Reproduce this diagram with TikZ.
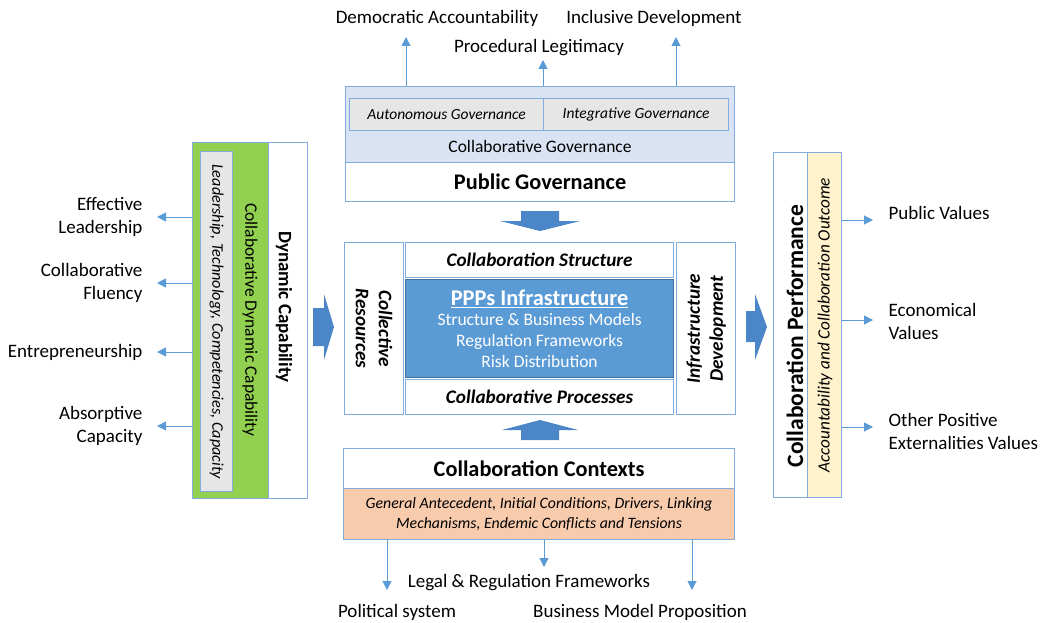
\documentclass[tikz,border=0pt]{standalone}
\usepackage{fontspec}
\setmainfont{Carlito}
\usepackage{xcolor}
\usepackage{tikz}
\usetikzlibrary{arrows.meta}

\definecolor{boxline}{RGB}{131,172,222}
\definecolor{flowblue}{RGB}{91,155,213}
\definecolor{arrowblue}{RGB}{74,134,200}
\definecolor{pppblue}{RGB}{91,155,213}
\definecolor{pppline}{RGB}{65,113,156}
\definecolor{govfill}{RGB}{218,227,243}
\definecolor{greyfill}{RGB}{231,230,230}
\definecolor{dcgreen}{RGB}{146,208,80}
\definecolor{outyellow}{RGB}{255,242,204}
\definecolor{ctxorange}{RGB}{248,203,173}

\begin{document}
\begin{tikzpicture}
            [
                x=1pt, y=-1pt,
                line width=1.2pt,
                font=\fontsize{19}{23}\selectfont
            ]
            \tikzset{
                cbox/.style = {rectangle, draw=boxline, anchor=north west, inner sep=0pt, align=center},
                headtext/.style = {font=\fontsize{22.3}{26}\selectfont\bfseries},
                subtext/.style = {font=\fontsize{19.2}{23}\selectfont\bfseries\itshape},
                smallit/.style = {font=\fontsize{15.5}{19}\selectfont\itshape},
                outtext/.style = {inner sep=1pt, align=center},
                flow/.style = {draw=flowblue, line width=1pt, -{Triangle[length=9pt,width=9pt]}},
                bigarrow/.style = {fill=arrowblue, draw=none}
            }
            \useasboundingbox (0,0) rectangle (1043,623);

            % public governance (top)
            \node[cbox, fill=govfill, minimum width=389, minimum height=76] (collgov) at (345,86) {};
            \node[cbox, fill=greyfill, minimum width=194, minimum height=32, smallit] (autogov) at (349,98) {Autonomous Governance};
            \node[cbox, fill=greyfill, minimum width=185, minimum height=32, smallit] (intgov) at (543,98) {Integrative Governance};
            \node[font=\fontsize{17.5}{21}\selectfont] (collgovtxt) at (540,146) {Collaborative Governance};
            \node[cbox, fill=white, minimum width=389, minimum height=39, headtext] (pubgov) at (345,162) {Public Governance};

            \node[outtext] (demacc) at (437,18) {Democratic Accountability};
            \node[outtext] (incdev) at (654,18) {Inclusive Development};
            \node[outtext] (procleg) at (539,48) {Procedural Legitimacy};
            \coordinate (datip) at (406,37);
            \coordinate (pltip) at (543,60);
            \coordinate (idtip) at (676,37);
            \draw[flow] (datip |- collgov.north) -- (datip);
            \draw[flow] (pltip |- collgov.north) -- (pltip);
            \draw[flow] (idtip |- collgov.north) -- (idtip);

            % dynamic capability (left)
            \node[cbox, fill=dcgreen, minimum width=76, minimum height=356] (cdc) at (192,142) {};
            \node[cbox, fill=white, minimum width=39, minimum height=356] (dcap) at (268,142) {};
            \node[cbox, fill=greyfill, minimum width=32, minimum height=340] (ltcc) at (200,151) {};
            \node[rotate=-90, font=\fontsize{16.2}{19}\selectfont\itshape] (ltcctxt) at (ltcc.center) {Leadership, Technology, Competencies, Capacity};
            \node[rotate=-90, font=\fontsize{17.5}{21}\selectfont] (cdctxt) at (250,320) {Collaborative Dynamic Capability};
            \node[rotate=-90, font=\fontsize{19}{23}\selectfont\bfseries] (dcaptxt) at (284,307) {Dynamic Capability};

            \node[outtext, anchor=east, align=right] (efflead) at (144,217) {Effective\\Leadership};
            \node[outtext, anchor=east, align=right] (collflu) at (144,283) {Collaborative\\Fluency};
            \node[outtext, anchor=east, align=right] (entre) at (144,352) {Entrepreneurship};
            \node[outtext, anchor=east, align=right] (abscap) at (144,426) {Absorptive\\Capacity};
            \draw[flow] (cdc.west |- efflead.east) -- ([xshift=13pt]efflead.east);
            \draw[flow] (cdc.west |- collflu.east) -- ([xshift=13pt]collflu.east);
            \draw[flow] (cdc.west |- entre.east) -- ([xshift=13pt]entre.east);
            \draw[flow] (cdc.west |- abscap.east) -- ([xshift=13pt]abscap.east);

            % PPPs infrastructure core
            \node[cbox, minimum width=59, minimum height=172] (colres) at (344,242) {};
            \node[cbox, minimum width=268, minimum height=35, subtext] (cstruct) at (405,242) {Collaboration Structure};
            \node[cbox, fill=pppblue, draw=pppline, minimum width=268, minimum height=98, text=white,
                  font=\fontsize{17.5}{21}\selectfont] (ppp) at (405,279)
                {{\fontsize{22.4}{24}\selectfont\bfseries\underline{PPPs Infrastructure}}\\[-1pt]
                 Structure \& Business Models\\ Regulation Frameworks\\ Risk Distribution};
            \node[cbox, minimum width=268, minimum height=35, subtext] (cproc) at (405,379) {Collaborative Processes};
            \node[cbox, minimum width=59, minimum height=172] (infdev) at (676,242) {};
            \node[rotate=-90, subtext, align=center] (colrestxt) at (colres.center) {Collective\\Resources};
            \node[rotate=90, subtext, align=center] (infdevtxt) at (infdev.center) {Infrastructure\\Development};

            % collaboration performance (right)
            \node[cbox, minimum width=34, minimum height=345] (cperf) at (773,152) {};
            \node[cbox, fill=outyellow, minimum width=34, minimum height=345] (accout) at (807,152) {};
            \node[rotate=90, font=\fontsize{23.5}{27}\selectfont\bfseries] (cperftxt) at (795,336) {Collaboration Performance};
            \node[rotate=90, font=\fontsize{17.2}{20}\selectfont\itshape] (accouttxt) at (825,325) {Accountability and Collaboration Outcome};

            \node[outtext, anchor=west, align=left] (pubval) at (887,213) {Public Values};
            \node[outtext, anchor=west, align=left] (ecoval) at (887,321) {Economical\\Values};
            \node[outtext, anchor=west, align=left] (othval) at (887,431) {Other Positive\\Externalities Values};
            \coordinate (pvtip) at (873,220);
            \coordinate (evtip) at (873,320);
            \coordinate (ovtip) at (873,427);
            \draw[flow] (pvtip -| accout.east) -- (pvtip);
            \draw[flow] (evtip -| accout.east) -- (evtip);
            \draw[flow] (ovtip -| accout.east) -- (ovtip);

            % collaboration contexts (bottom)
            \node[cbox, fill=white, minimum width=391, minimum height=40, headtext] (ccont) at (343,448) {Collaboration Contexts};
            \node[cbox, fill=ctxorange, minimum width=391, minimum height=51,
                  font=\fontsize{15.8}{19.5}\selectfont\itshape] (antec) at (343,488)
                {General Antecedent, Initial Conditions, Drivers, Linking\\ Mechanisms, Endemic Conflicts and Tensions};

            \node[outtext] (polsys) at (397,612) {Political system};
            \node[outtext] (legreg) at (529,583) {Legal \& Regulation Frameworks};
            \node[outtext] (bizmod) at (640,612) {Business Model Proposition};
            \coordinate (pstip) at (387,590);
            \coordinate (lrtip) at (544,567);
            \coordinate (bmtip) at (692,590);
            \draw[flow] (pstip |- antec.south) -- (pstip);
            \draw[flow] (lrtip |- antec.south) -- (lrtip);
            \draw[flow] (bmtip |- antec.south) -- (bmtip);

            % block arrows into the core
            \fill[bigarrow] (521,211) -- (559,211) -- (559,221) -- (580,221) -- (540,231) -- (500,221) -- (521,221) -- cycle;
            \fill[bigarrow] (521,440) -- (559,440) -- (559,430) -- (578,430) -- (540,420) -- (502,430) -- (521,430) -- cycle;
            \fill[bigarrow] (313,308) -- (324,308) -- (324,294) -- (334,327) -- (324,360) -- (324,346) -- (313,346) -- cycle;
            \fill[bigarrow] (746,311) -- (755,311) -- (755,294) -- (767,327) -- (755,360) -- (755,342) -- (746,342) -- cycle;
\end{tikzpicture}
\end{document}
